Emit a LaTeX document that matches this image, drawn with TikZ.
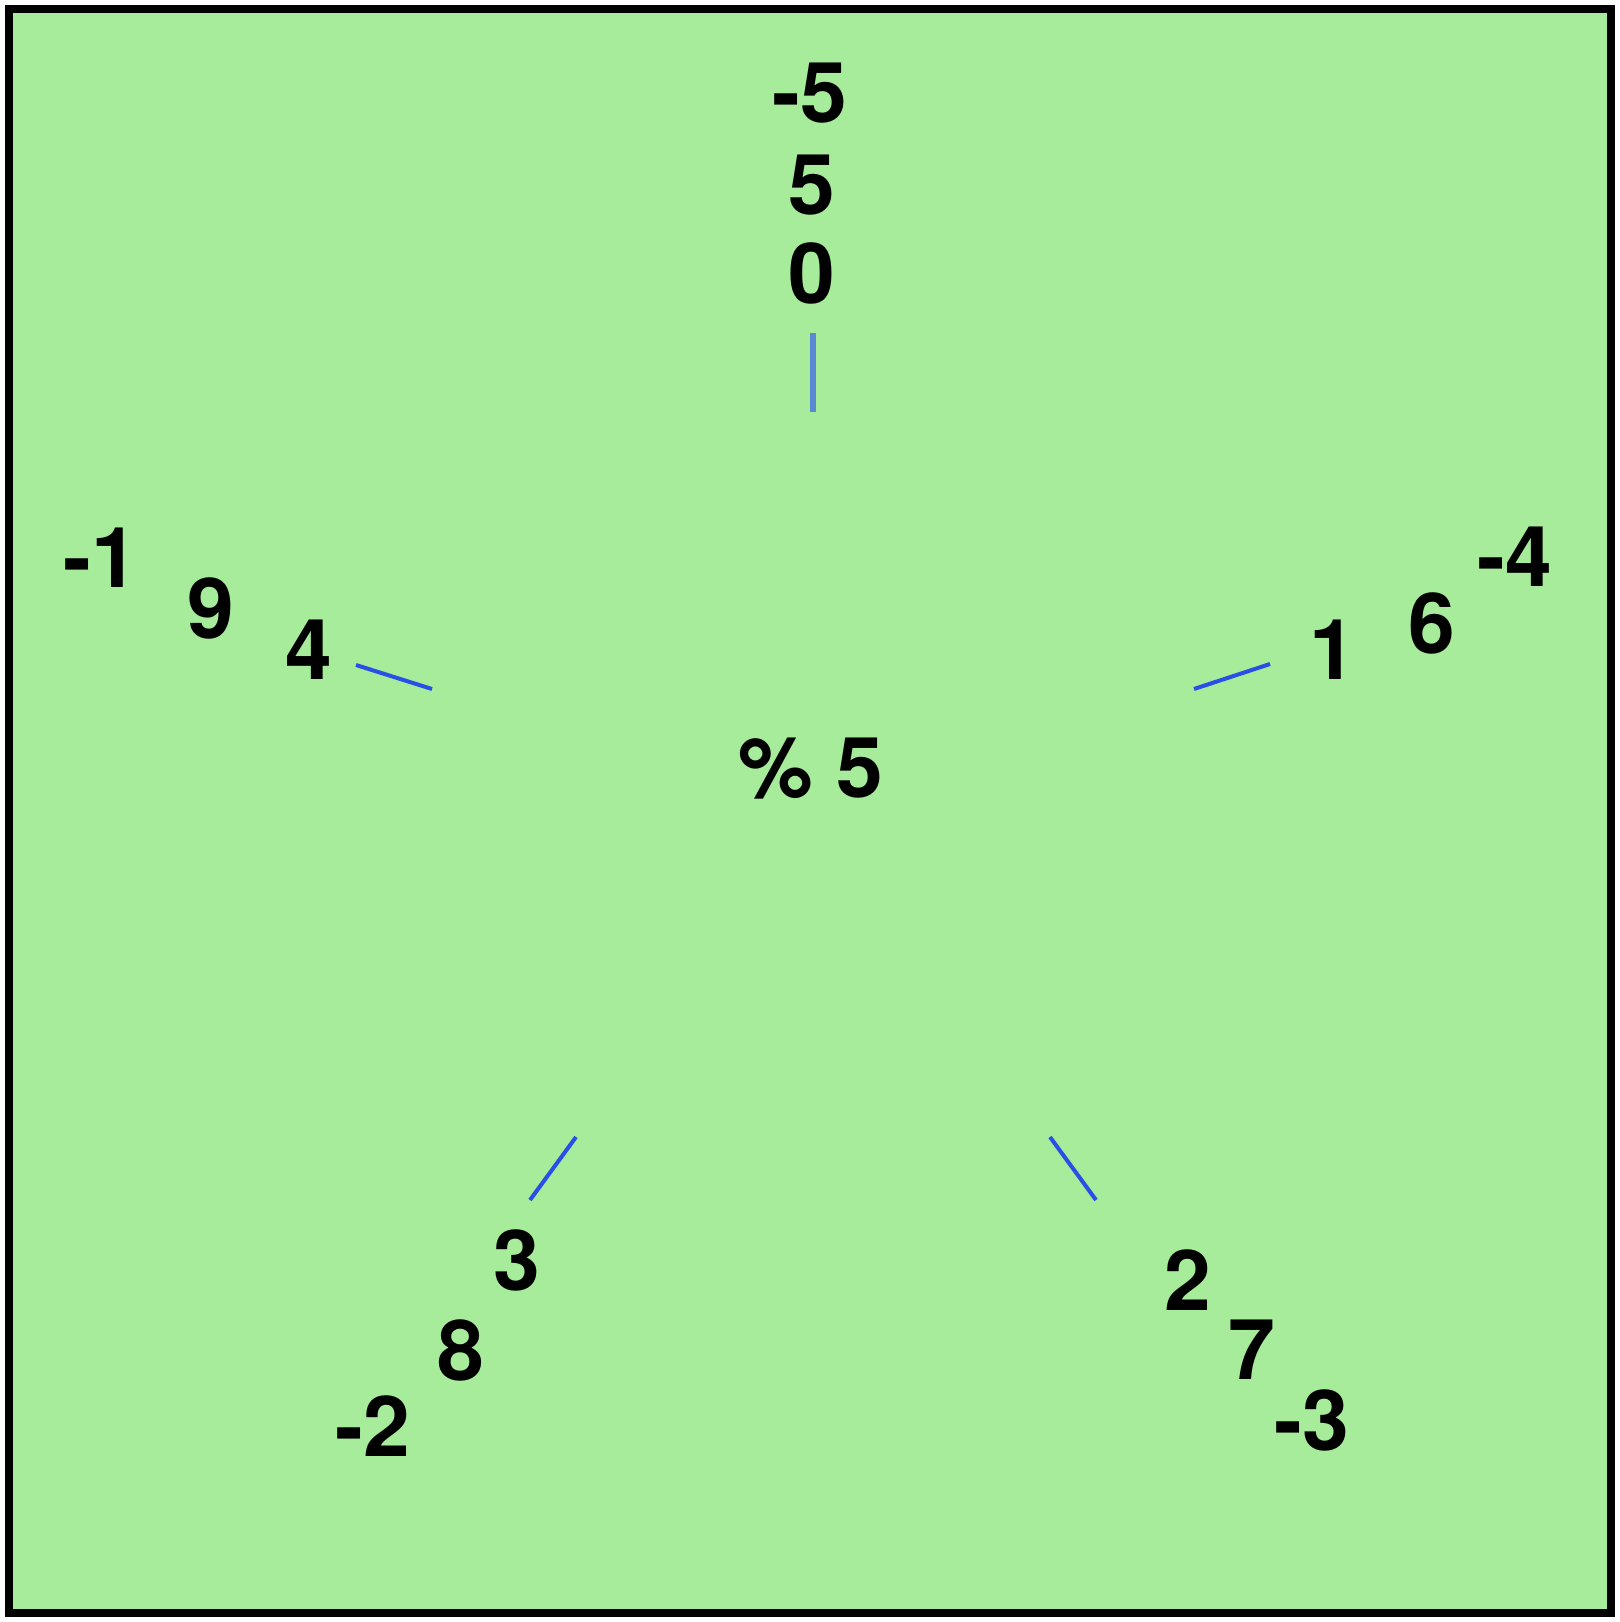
\documentclass[tikz,border=0pt]{standalone}
\usepackage{fontspec}
\setmainfont{TeX Gyre Heros}
\definecolor{bggreen}{HTML}{A6EC9A}
\definecolor{topblue}{HTML}{5A88D2}
\definecolor{tickblue}{HTML}{2A4FE6}
\begin{document}
\begin{tikzpicture}[x=0.5pt,y=-0.5pt,
  num/.style={inner sep=0pt,font=\fontsize{42}{48}\selectfont\bfseries,text=black},
  tick/.style={draw=tickblue,line width=2pt},
  toptick/.style={draw=topblue,line width=3pt}]
\useasboundingbox (0,0) rectangle (1620,1622);
\draw[fill=bggreen,draw=black,line width=4pt] (9,9) rectangle (1611,1613);
% center
\node[num] (c) at (811,769) {\% 5};
% top
\node[num] (t0) at (812,273) {0};
\node[num] (t5) at (812,185) {5};
\node[num] (tm) at (810,93) {-5};
\coordinate (ta) at (813,412);
\coordinate (tb) at (813,333);
\draw[toptick] (ta) -- (tb);
% right
\node[num] (r1) at (1333,650) {1};
\node[num] (r6) at (1432,623) {6};
\node[num] (rm) at (1515,557) {-4};
\coordinate (ra) at (1194,689);
\coordinate (rb) at (1270,664);
\draw[tick] (ra) -- (rb);
% left
\node[num] (l4) at (309,650) {4};
\node[num] (l9) at (211,608) {9};
\node[num] (lm) at (101,558) {-1};
\coordinate (la) at (432,689);
\coordinate (lb) at (356,665);
\draw[tick] (la) -- (lb);
% bottom left
\node[num] (bl3) at (517,1260) {3};
\node[num] (bl8) at (461,1350) {8};
\node[num] (blm) at (373,1426) {-2};
\coordinate (bla) at (576,1137);
\coordinate (blb) at (530,1200);
\draw[tick] (bla) -- (blb);
% bottom right
\node[num] (br2) at (1188,1280) {2};
\node[num] (br7) at (1252,1350) {7};
\node[num] (brm) at (1312,1420) {-3};
\coordinate (bra) at (1050,1137);
\coordinate (brb) at (1096,1200);
\draw[tick] (bra) -- (brb);
\end{tikzpicture}
\end{document}
